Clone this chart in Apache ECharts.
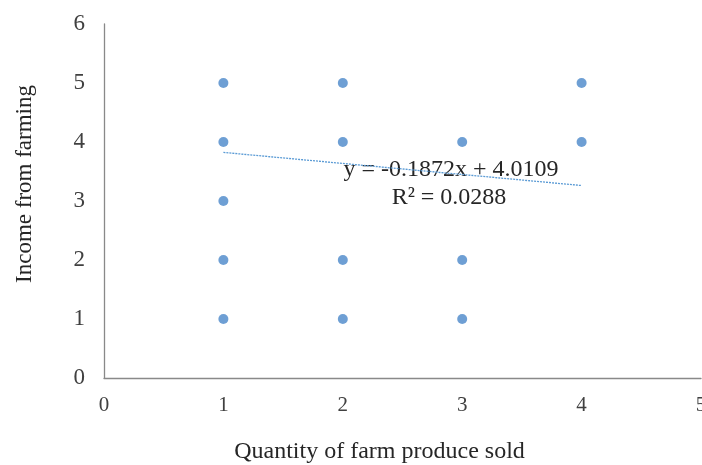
<!DOCTYPE html>
<html>
<head>
<meta charset="utf-8">
<script src="https://cdn.jsdelivr.net/npm/echarts@6/dist/echarts.min.js"></script>
<style>
  html, body { margin: 0; padding: 0; background: #fff; }
  #chart { width: 702px; height: 465px; }
</style>
</head>
<body>
<div id="chart"></div>
<script>
// Observed responses: quantity sold (x) vs income from farming (y)
const quantity = [1, 1, 1, 1, 1, 2, 2, 2, 2, 3, 3, 3, 4, 4];
const income   = [5, 4, 3, 2, 1, 5, 4, 2, 1, 4, 2, 1, 5, 4];

// Linear trend fitted to the data
const slope = -0.1872;
const intercept = 4.0109;
const rSquared = 0.0288;
const trendX = [1, 4];

const xTicks = [0, 1, 2, 3, 4, 5];
const yTicks = [0, 1, 2, 3, 4, 5, 6];

const points = quantity.map((q, i) => [q, income[i]]);
const trendLine = trendX.map(x => [x, slope * x + intercept]);

const serif = '"Liberation Serif", "Times New Roman", serif';
const chart = echarts.init(document.getElementById('chart'));

chart.setOption({
  animation: false,
  backgroundColor: '#ffffff',
  // keep the plot area fixed even though the last x label runs past the edge
  grid: { left: 104, top: 24, width: 597, height: 354, containLabel: false, outerBoundsMode: 'none' },
  xAxis: {
    type: 'value',
    min: xTicks[0],
    max: xTicks[xTicks.length - 1],
    interval: 1,
    name: 'Quantity of farm produce sold',
    nameLocation: 'middle',
    nameGap: 62,
    nameTextStyle: { fontFamily: serif, fontSize: 24, color: '#262626', padding: [0, 46, 0, 0] },
    axisLine: { show: true, lineStyle: { color: '#898989', width: 1.3 } },
    axisTick: { show: false },
    splitLine: { show: false },
    axisLabel: { fontFamily: serif, fontSize: 21, color: '#404040', margin: 17, hideOverlap: false }
  },
  yAxis: {
    type: 'value',
    min: yTicks[0],
    max: yTicks[yTicks.length - 1],
    interval: 1,
    name: 'Income from farming',
    nameLocation: 'middle',
    nameGap: 68,
    nameRotate: 90,
    nameTextStyle: { fontFamily: serif, fontSize: 23, color: '#262626', padding: [0, 0, 0, 34] },
    axisLine: { show: true, lineStyle: { color: '#898989', width: 1.3 } },
    axisTick: { show: false },
    splitLine: { show: false },
    axisLabel: { fontFamily: serif, fontSize: 23, color: '#404040', margin: 19 }
  },
  series: [
    {
      type: 'scatter',
      data: points,
      symbol: 'circle',
      symbolSize: 10,
      itemStyle: { color: '#4a87c9' },
      z: 3
    },
    {
      type: 'line',
      data: trendLine,
      symbol: 'none',
      lineStyle: { color: '#5b9bd5', width: 1.3, type: [2, 1] },
      z: 2
    }
  ],
  graphic: [
    {
      type: 'text',
      x: 451,
      y: 170,
      style: {
        text: 'y = ' + slope.toFixed(4) + 'x + ' + intercept.toFixed(4),
        font: '24px ' + serif,
        fill: '#262626',
        align: 'center',
        verticalAlign: 'middle'
      }
    },
    {
      type: 'text',
      x: 449,
      y: 198,
      style: {
        text: 'R² = ' + rSquared.toFixed(4),
        font: '24px ' + serif,
        fill: '#262626',
        align: 'center',
        verticalAlign: 'middle'
      }
    }
  ]
});
</script>
</body>
</html>
